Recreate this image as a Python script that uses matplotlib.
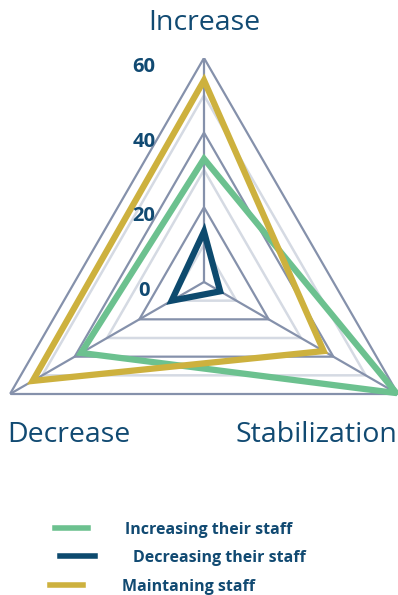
import numpy as np
import matplotlib.pyplot as plt
from matplotlib.lines import Line2D
from matplotlib.transforms import offset_copy

categories = ["Increase", "Stabilization", "Decrease"]
series_names = ["Increasing their staff", "Decreasing their staff", "Maintaning staff"]
increasing = [33, 59.5, 38]
decreasing = [13.5, 5, 10]
maintaining = [54, 37, 53]
major_levels = [0, 20, 40, 60]
minor_levels = [10, 30, 50]

colors = ["#6cc18f", "#0d4a6e", "#cdb13e"]
grid_dark = "#8591ab"
grid_light = "#d5dae3"
text_col = "#114a72"

plt.rcParams['font.family'] = ['Open Sans', 'DejaVu Sans']

fig = plt.figure(figsize=(3.98, 5.95), dpi=100)
# center of the radar at (204, 282) px, radius 224 px
W, H = 398, 595
cx, cy, R = 204, 282, 224
ax = fig.add_axes([(cx - R) / W, (H - cy - R) / H, 2 * R / W, 2 * R / H], projection='polar')
ax.set_theta_offset(np.pi / 2)
ax.set_theta_direction(-1)
ax.set_ylim(0, 60)
ax.set_axis_off()

angles = np.arange(len(categories)) * 2 * np.pi / len(categories)

# light grid at half steps, dark grid at labelled steps
for lv in minor_levels:
    ax.fill(angles, [lv] * 3, facecolor='none', edgecolor=grid_light, lw=1.8, zorder=1)
for lv in major_levels[1:]:
    ax.fill(angles, [lv] * 3, facecolor='none', edgecolor=grid_dark, lw=1.6, zorder=2)
for a in angles:
    ax.plot([a, a], [0, 60], color=grid_dark, lw=1.6, zorder=2)

for vals, col in zip([increasing, decreasing, maintaining], colors):
    ax.fill(angles, vals, facecolor='none', edgecolor=col, lw=4.5, zorder=3,
            joinstyle='miter')

# radial tick labels
tr = offset_copy(ax.transData, fig=fig, x=-60, y=-9, units='dots')
for lv in major_levels:
    ax.text(angles[0], lv, str(lv), transform=tr, ha='center', va='center',
            fontsize=14.5, fontweight='bold', color=text_col)

# category labels
fig.text(204 / W, 1 - 23 / H, categories[0], ha='center', va='center', fontsize=20.5, color=text_col)
fig.text(316 / W, 1 - 435 / H, categories[1], ha='center', va='center', fontsize=20.5, color=text_col)
fig.text(69 / W, 1 - 435 / H, categories[2], ha='center', va='center', fontsize=20.5, color=text_col)

# legend
legend_rows = [(55, 88, 125, 528), (60, 95, 133, 556), (50, 83, 122, 585)]
for (x0, x1, xt, y), name, col in zip(legend_rows, series_names, colors):
    fig.add_artist(Line2D([x0 / W, x1 / W], [1 - y / H, 1 - y / H], color=col, lw=4,
                          transform=fig.transFigure))
    fig.text(xt / W, 1 - (y + 2) / H, name, ha='left', va='center', fontsize=11.5,
             fontweight='bold', color=text_col)

fig.savefig("out.png", dpi=100)
